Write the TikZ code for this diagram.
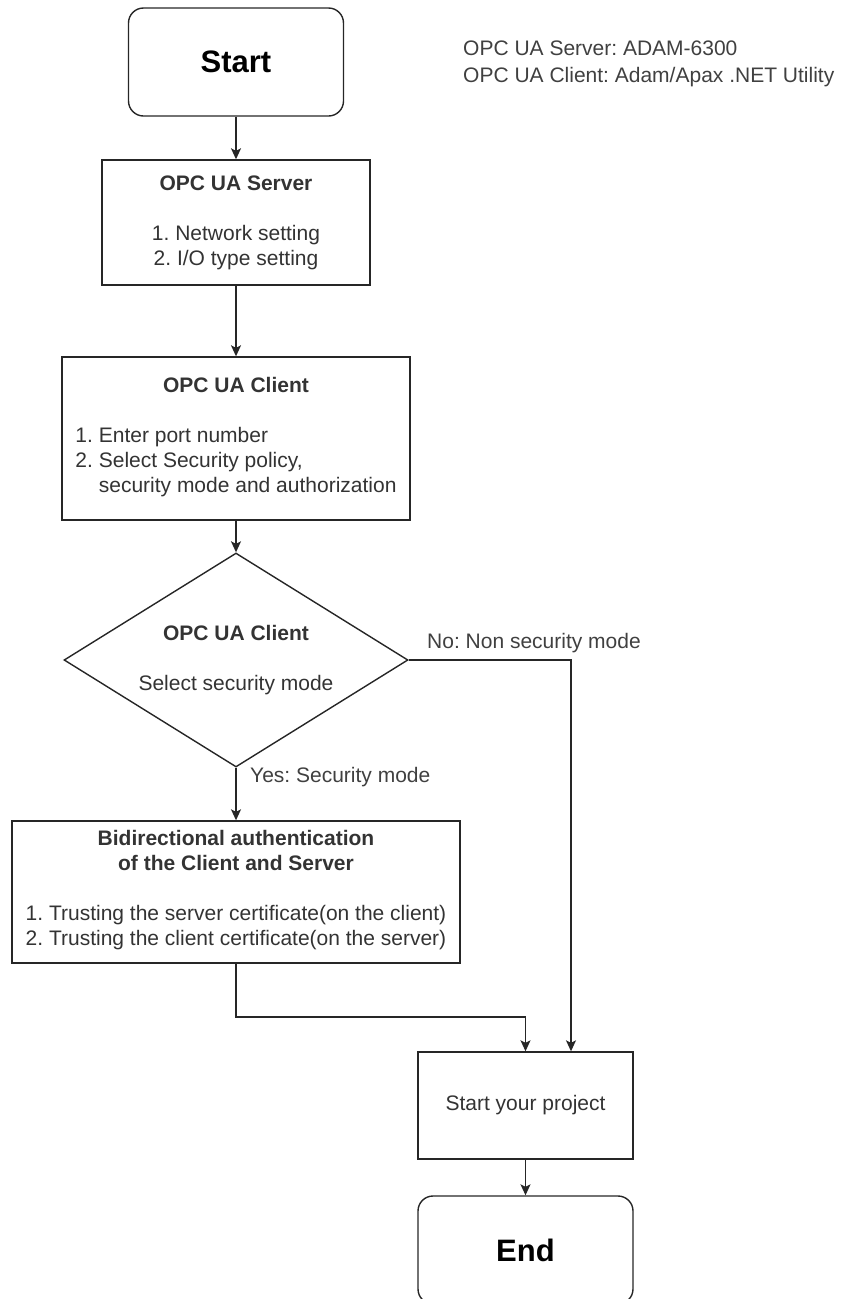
\documentclass[tikz,border=0pt]{standalone}
\usepackage{fontspec}
\setmainfont{Liberation Sans}
\usetikzlibrary{arrows.meta,shapes.geometric,calc}
\frenchspacing
\begin{document}
\begin{tikzpicture}[x=1pt,y=-1pt,
  box/.style={draw=black!85, line width=1.4pt, rectangle, inner sep=0pt, align=center, text=black!80, font=\fontsize{21}{25}\selectfont},
  term/.style={box, rounded corners=15pt, font=\fontsize{31}{36}\selectfont\bfseries, text=black},
  dec/.style={draw=black!85, line width=1.4pt, diamond, shape aspect=1.6, inner sep=0pt, align=center, text=black!80, font=\fontsize{21}{25}\selectfont},
  arr/.style={draw=black!85, line width=1.4pt, -{Stealth[length=11pt,width=10pt,inset=2.5pt]}},
  lbl/.style={text=black!75, font=\fontsize{21}{25}\selectfont, inner sep=0pt},
]
\useasboundingbox (0,0) rectangle (845,1299);
\node[term, minimum width=215pt, minimum height=108pt] (start) at (236,62) {Start};
\node[lbl, anchor=west, align=left, font=\fontsize{21}{27}\selectfont] (info) at (463,63.5) {OPC UA Server: ADAM-6300\\OPC UA Client: Adam/Apax .NET Utility};
\node[box, minimum width=268pt, minimum height=125pt] (server) at (236,222.5)
  {\textbf{OPC UA Server}\\[25pt]1. Network setting\\2. I/O type setting};
\node[box, minimum width=348pt, minimum height=163pt] (client) at (236,438.5)
  {\textbf{OPC UA Client}\\[25pt]\begin{tabular}[t]{@{}l@{}}1. Enter port number\\2. Select Security policy,\\\phantom{2. }security mode and authorization\end{tabular}};
\node[dec, minimum width=344pt, minimum height=214pt] (dia) at (236,660)
  {\textbf{OPC UA Client}\\[25pt]Select security mode};
\node[box, minimum width=448pt, minimum height=142pt] (bidi) at (236,892)
  {\textbf{Bidirectional authentication}\\\textbf{of the Client and Server}\\[25pt]\begin{tabular}[t]{@{}l@{}}1. Trusting the server certificate(on the client)\\2. Trusting the client certificate(on the server)\end{tabular}};
\node[box, minimum width=215pt, minimum height=107pt] (project) at (525.5,1105.5) {Start your project};
\node[term, minimum width=215pt, minimum height=108pt] (end) at (525.5,1250) {End};
\node[lbl, anchor=west] (yeslbl) at (250,777) {Yes: Security mode};
\node[lbl, anchor=west] (nolbl) at (427,643) {No: Non security mode};
\coordinate (noturn) at (571,660);
\coordinate (bend) at (525.5,1017);
\draw[arr] (start.south) -- (server.north);
\draw[arr] (server.south) -- (client.north);
\draw[arr] (client.south) -- (dia.north);
\draw[arr] (dia.south) -- (bidi.north);
\draw[arr] (dia.east) -- (noturn) -- (noturn |- project.north);
\draw[arr] (bidi.south) |- (bend) -- (project.north);
\draw[arr] (project.south) -- (end.north);
\end{tikzpicture}
\end{document}
